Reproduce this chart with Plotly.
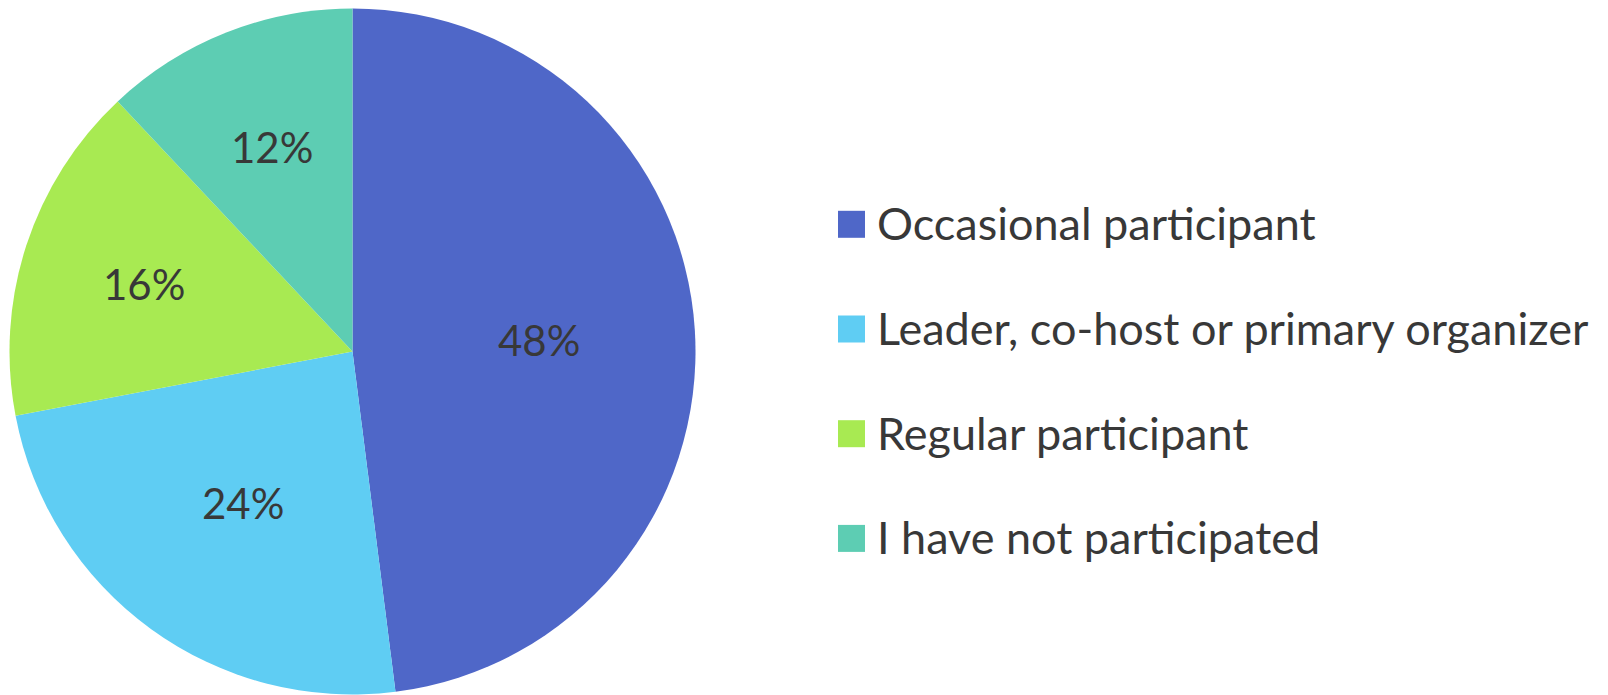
import math
import plotly.graph_objects as go

categories = ["Occasional participant", "Leader, co-host or primary organizer",
              "Regular participant", "I have not participated"]
values = [48, 24, 16, 12]
colors = ["#4F67C8", "#5FCDF3", "#A8EA52", "#5DCDB3"]

# the page body has an 8px default margin: the figure is offset by it
OFF = 8
PAGE_W, PAGE_H = 1608, 695
W, H = PAGE_W - OFF, PAGE_H - OFF
FONT = "Lato"
TXT = "#383838"


def px(x):  # page x -> paper x
    return (x - OFF) / W


def py(y):  # page y (from top) -> paper y
    return 1 - (y - OFF) / H


# pie geometry (page pixels)
CX, CY, R = 352.5, 351.5, 343
dom_x = [px(CX - R), px(CX + R)]
dom_y = [py(CY + R), py(CY - R)]

fig = go.Figure()
fig.add_trace(go.Pie(
    labels=categories, values=values, sort=False, direction="clockwise", rotation=0,
    marker=dict(colors=colors, line=dict(width=0)),
    textinfo="none", showlegend=False, hoverinfo="label+percent",
    domain=dict(x=dom_x, y=dom_y),
))

# percentage labels placed along each slice's mid-angle (best-fit style)
total = sum(values)
cum = 0
for v in values:
    share = v / total
    mid = (cum + v / 2) / total * 2 * math.pi
    cum += v
    f = 0.545 if share > 0.2 else 0.64
    lx = CX + R * f * math.sin(mid)
    ly = CY - R * f * math.cos(mid)
    fig.add_annotation(text=f"{round(share * 100)}%", xref="paper", yref="paper",
                       x=px(lx), y=py(ly), xanchor="center", yanchor="middle",
                       showarrow=False, font=dict(family=FONT, size=42, color=TXT))

# custom legend
sq = 27
x0 = 838
y_first, step = 224.3, 104.7
for i, (name, c) in enumerate(zip(categories, colors)):
    yc = y_first + i * step
    fig.add_shape(type="rect", xref="paper", yref="paper",
                  x0=px(x0), x1=px(x0 + sq),
                  y0=py(yc + sq / 2), y1=py(yc - sq / 2),
                  fillcolor=c, line=dict(width=0))
    fig.add_annotation(text=name, xref="paper", yref="paper",
                       x=px(x0 + sq + 10), y=py(yc - 1), xanchor="left", yanchor="middle",
                       showarrow=False, font=dict(family=FONT, size=45, color=TXT))

fig.update_layout(width=W, height=H, margin=dict(l=0, r=0, t=0, b=0),
                  paper_bgcolor="white", plot_bgcolor="white")
fig.write_html("out.html")
